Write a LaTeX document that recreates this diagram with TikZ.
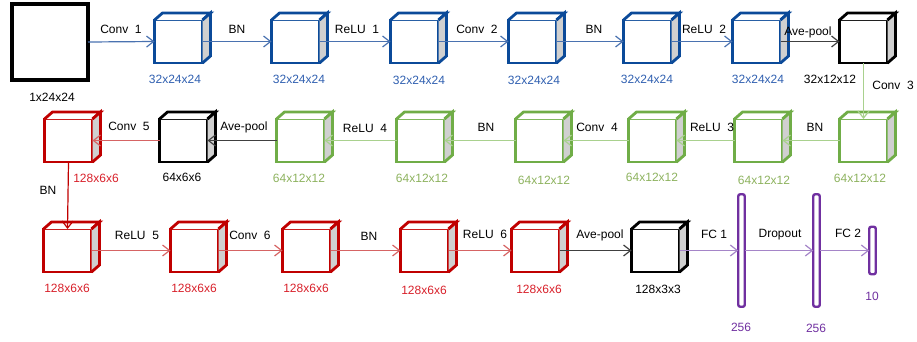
\documentclass[tikz,border=0pt]{standalone}
\usepackage{fontspec}
\setmainfont{Liberation Sans}
\usetikzlibrary{arrows.meta}

\definecolor{frameblue}{HTML}{0B4A99}
\definecolor{textblue}{HTML}{2F5FB0}
\definecolor{lineblue}{HTML}{4A72B0}
\definecolor{framegreen}{HTML}{70AD47}
\definecolor{textgreen}{HTML}{8DB25E}
\definecolor{linegreen}{HTML}{A9D18E}
\definecolor{framered}{HTML}{C00000}
\definecolor{textred}{HTML}{D8202A}
\definecolor{linered}{HTML}{D66464}
\definecolor{framepurple}{HTML}{7030A0}
\definecolor{linepurple}{HTML}{A585C8}
\definecolor{lineblack}{HTML}{404040}
\definecolor{sidegray}{HTML}{D0D0D0}

\tikzset{
  layer/.style={draw=#1, line width=2.8pt, fill=white, minimum width=48pt,
    minimum height=43pt, inner sep=0pt, outer sep=0pt},
  face/.style={draw=#1, line width=2.8pt},
  fcbar/.style={draw=framepurple, line width=2.4pt, rounded corners=2pt, fill=white,
    minimum width=6.5pt, minimum height=#1, inner sep=0pt, outer sep=0pt},
  flow/.style={draw=#1, line width=1.2pt, -{Straight Barb[length=7pt,width=11pt]}},
  op/.style={font=\fontsize{12}{14}\selectfont, inner sep=0pt, text height=8.6pt, text depth=0pt},
  size/.style={op, text=#1},
}

\begin{document}
\begin{tikzpicture}[x=1pt, y=-1pt]
    \useasboundingbox (0,0) rectangle (917,341);

    % Input
    \node[draw, line width=3.5pt, minimum size=76pt, inner sep=0pt, outer sep=0pt] (in) at (50,42) {};

    % Row 1
    \node[layer=frameblue] (b1) at (178.5,41.5) {};
    \node[layer=frameblue] (b2) at (295.5,41.5) {};
    \node[layer=frameblue] (b3) at (414.5,41.5) {};
    \node[layer=frameblue] (b4) at (532.5,41.5) {};
    \node[layer=frameblue] (b5) at (647.5,41.5) {};
    \node[layer=frameblue] (b6) at (756.5,41.5) {};
    \node[layer=black] (p1) at (863.5,41.5) {};

    % Row 2 (right to left)
    \node[layer=framegreen] (g1) at (863.5,140.5) {};
    \node[layer=framegreen] (g2) at (758.5,140.5) {};
    \node[layer=framegreen] (g3) at (652.5,140.5) {};
    \node[layer=framegreen] (g4) at (539.5,140.5) {};
    \node[layer=framegreen] (g5) at (420.5,140.5) {};
    \node[layer=framegreen] (g6) at (300.5,140.5) {};
    \node[layer=black] (p2) at (183.5,140.5) {};
    \node[layer=framered] (r1) at (68.5,140.5) {};

    % Row 3
    \node[layer=framered] (r2) at (67.5,250.5) {};
    \node[layer=framered] (r3) at (194.5,250.5) {};
    \node[layer=framered] (r4) at (306.5,250.5) {};
    \node[layer=framered] (r5) at (424.5,250.5) {};
    \node[layer=framered] (r6) at (535.5,250.5) {};
    \node[layer=black] (p3) at (655.5,250.5) {};
    \node[fcbar=112.5pt] (f1) at (741.5,250.5) {};
    \node[fcbar=112.5pt] (f2) at (816.5,250.5) {};
    \node[fcbar=47.5pt] (f3) at (872.5,250.5) {};

    % Top and side faces
    \foreach \n/\c in {b1/frameblue, b2/frameblue, b3/frameblue, b4/frameblue,
        b5/frameblue, b6/frameblue, p1/black, g1/framegreen, g2/framegreen,
        g3/framegreen, g4/framegreen, g5/framegreen, g6/framegreen, p2/black,
        r1/framered, r2/framered, r3/framered, r4/framered, r5/framered,
        r6/framered, p3/black} {
        \filldraw[face=\c, fill=white] (\n.north west) -- ++(8pt,7pt)
            -- ([shift={(8pt,7pt)}]\n.north east) -- (\n.north east);
        \filldraw[face=\c, fill=sidegray] (\n.north east) -- ++(8pt,7pt)
            -- ([shift={(8pt,7pt)}]\n.south east) -- (\n.south east);
    }

    % Connectors
    \foreach \a/\b in {in/b1, b1/b2, b2/b3, b3/b4, b4/b5, b5/b6}
        \draw[flow=lineblue] (\a.east) -- (\b.west);
    \draw[flow=lineblack] (b6.east) -- (p1.west);
    \draw[flow=linegreen] (p1.south) -- (g1.north);
    \foreach \a/\b in {g1/g2, g2/g3, g3/g4, g4/g5, g5/g6}
        \draw[flow=linegreen] (\a.west) -- (\b.east);
    \draw[flow=lineblack] (g6.west) -- (p2.east);
    \draw[flow=linered] (p2.west) -- (r1.east);
    \draw[flow=framered] (r1.south) -- (r2.north);
    \foreach \a/\b in {r2/r3, r3/r4, r4/r5, r5/r6}
        \draw[flow=linered] (\a.east) -- (\b.west);
    \draw[flow=lineblack] (r6.east) -- (p3.west);
    \draw[flow=linepurple] (p3.east) -- (f1.west);
    \draw[flow=linepurple] (f1.east) -- (f2.west);
    \draw[flow=linepurple] (f2.east) -- (f3.west);

    % Operation labels
    \node[op] (t-conv1) at (121,29) {Conv~~1};
    \node[op] (t-bn1) at (237,29) {BN};
    \node[op] (t-relu1) at (357,29) {ReLU~~1};
    \node[op] (t-conv2) at (477,29) {Conv~~2};
    \node[op] (t-bn2) at (594,29) {BN};
    \node[op] (t-relu2) at (704,29) {ReLU~~2};
    \node[op] (t-pool1) at (808,31) {Ave-pool};
    \node[op] (t-conv3) at (893,85) {Conv~~3};
    \node[op] (t-bn3) at (815,127) {BN};
    \node[op] (t-relu3) at (712,127) {ReLU~~3};
    \node[op] (t-conv4) at (597,127) {Conv~~4};
    \node[op] (t-bn4) at (486,127) {BN};
    \node[op] (t-relu4) at (365,128) {ReLU~~4};
    \node[op] (t-pool2) at (244,126) {Ave-pool};
    \node[op] (t-conv5) at (129,126) {Conv~~5};
    \node[op] (t-bn5) at (48,190) {BN};
    \node[op] (t-relu5) at (137,235) {ReLU~~5};
    \node[op] (t-conv6) at (250,235) {Conv~~6};
    \node[op] (t-bn6) at (369,236) {BN};
    \node[op] (t-relu6) at (485,234) {ReLU~~6};
    \node[op] (t-pool3) at (600,234) {Ave-pool};
    \node[op] (t-fc1) at (714,234) {FC 1};
    \node[op] (t-drop) at (780,233) {Dropout};
    \node[op] (t-fc2) at (848,233) {FC 2};

    % Sizes
    \node[size=black] (s-in) at (52,97) {1x24x24};
    \node[size=textblue] (s-b1) at (175,79) {32x24x24};
    \node[size=textblue] (s-b2) at (299,79) {32x24x24};
    \node[size=textblue] (s-b3) at (419,80) {32x24x24};
    \node[size=textblue] (s-b4) at (534,80) {32x24x24};
    \node[size=textblue] (s-b5) at (647,79) {32x24x24};
    \node[size=textblue] (s-b6) at (758,79) {32x24x24};
    \node[size=black] (s-p1) at (830,79) {32x12x12};
    \node[size=textgreen] (s-g1) at (860,178) {64x12x12};
    \node[size=textgreen] (s-g2) at (764,180) {64x12x12};
    \node[size=textgreen] (s-g3) at (652,177) {64x12x12};
    \node[size=textgreen] (s-g4) at (544,180) {64x12x12};
    \node[size=textgreen] (s-g5) at (422,178) {64x12x12};
    \node[size=textgreen] (s-g6) at (299,178) {64x12x12};
    \node[size=black] (s-p2) at (182,177) {64x6x6};
    \node[size=textred] (s-r1) at (96,178) {128x6x6};
    \node[size=textred] (s-r2) at (67,288) {128x6x6};
    \node[size=textred] (s-r3) at (194,288) {128x6x6};
    \node[size=textred] (s-r4) at (306,288) {128x6x6};
    \node[size=textred] (s-r5) at (424,290) {128x6x6};
    \node[size=textred] (s-r6) at (539,289) {128x6x6};
    \node[size=black] (s-p3) at (658,289) {128x3x3};
    \node[size=framepurple] (s-f1) at (741,327) {256};
    \node[size=framepurple] (s-f2) at (816,328) {256};
    \node[size=framepurple] (s-f3) at (872,296) {10};
\end{tikzpicture}
\end{document}
